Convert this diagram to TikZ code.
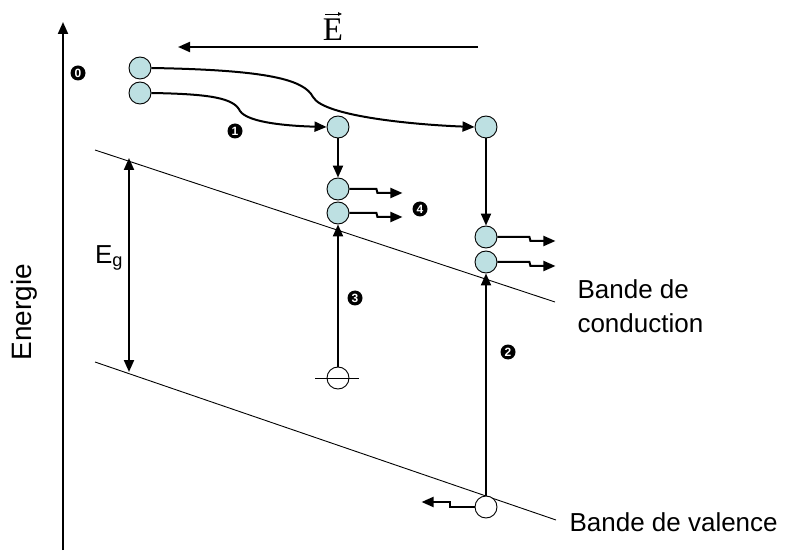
\documentclass[tikz,border=0pt]{standalone}
\usepackage{fontspec}
\setmainfont{Liberation Sans}
\newfontfamily\serifE{Liberation Serif}
\usetikzlibrary{arrows.meta}
\definecolor{eblue}{HTML}{BDE0E2}
\begin{document}
\begin{tikzpicture}[x=1pt,y=-1pt,
  elec/.style={circle,draw,line width=0.9pt,fill=eblue,minimum size=22pt,inner sep=0pt},
  hole/.style={circle,draw,line width=0.9pt,fill=white,minimum size=22pt,inner sep=0pt},
  num/.style={circle,fill=black,text=white,inner sep=0pt,minimum size=15pt,font=\bfseries\fontsize{12}{12}\selectfont},
  arr/.style={line width=2pt,-{Triangle[length=12pt,width=10pt]}},
  band/.style={line width=0.9pt},
  lbl/.style={font=\fontsize{26}{34}\selectfont}]
\useasboundingbox (0,0) rectangle (787,553);

% energy axis
\coordinate (axb) at (63,550);
\coordinate (axt) at (63,22);
\draw[arr] (axb) -- (axt);
\node[font=\fontsize{28}{28}\selectfont,rotate=90] (energie) at (24,312) {Energie};

% electric field
\coordinate (fs) at (478,47);
\coordinate (fe) at (178,47);
\draw[arr] (fs) -- (fe);
\node[font=\serifE\fontsize{33}{33}\selectfont,inner sep=0pt] (efield) at (333,30) {E};
\draw[line width=0.8pt,-{Triangle[length=4pt,width=3.5pt]}] ([xshift=-8pt,yshift=5pt]efield.north) -- ([xshift=9pt,yshift=5pt]efield.north);

% band edges
\coordinate (c1) at (95,150);
\coordinate (c2) at (555,302);
\coordinate (v1) at (95,362);
\coordinate (v2) at (556,520);
\draw[band] (c1) -- (c2);
\draw[band] (v1) -- (v2);

% band gap
\coordinate (gt) at (129,158);
\coordinate (gb) at (129,372);
\draw[line width=2pt,{Triangle[length=12pt,width=10pt]}-{Triangle[length=12pt,width=10pt]}] (gt) -- (gb);
\node[lbl] (eg) at (109,258) {E\textsubscript{g}};

% carriers
\node[elec] (a0) at (140,68) {};
\node[elec] (b0) at (140,93) {};
\node[elec] (a1) at (338,127) {};
\node[elec] (b1) at (486,127) {};
\node[elec] (a2) at (338,189) {};
\node[elec] (a3) at (338,213) {};
\node[elec] (b2) at (486,237) {};
\node[elec] (b3) at (486,262) {};
\node[hole] (h1) at (338,378) {};
\node[hole] (h2) at (486,507) {};
\coordinate (hl) at (315,378);
\coordinate (hr) at (359,378);
\draw[line width=0.9pt] (hl) -- (hr);

% drift paths in the field
\coordinate (k1) at (240,111);
\coordinate (k2) at (313,97);
\draw[arr] (b0.east) .. controls (210,94) and (234,98) .. (k1)
  .. controls (248,123) and (290,126) .. (a1.west);
\draw[arr] (a0.east) .. controls (270,70) and (304,80) .. (k2)
  .. controls (324,117) and (420,125) .. (b1.west);

% relaxation
\draw[arr] (a1.south) -- (a2.north);
\draw[arr] (b1.south) -- (b2.north);

% generation
\draw[arr] (h1.north) -- (a3.south);
\draw[arr] (h2.north) -- (b3.south);

% emitted energy
\draw[arr] (a2.east) -- ++(27,0) -- ++(1,4) -- ++(25,0);
\draw[arr] (a3.east) -- ++(27,0) -- ++(1,4) -- ++(25,0);
\draw[arr] (b2.east) -- ++(32,0) -- ++(1,4) -- ++(25,0);
\draw[arr] (b3.east) -- ++(32,0) -- ++(1,4) -- ++(25,0);
\draw[arr] (h2.west) -- ++(-25,0) -- ++(0,-5) -- ++(-28,0);

% step labels
\node[num] (n0) at (78,73) {0};
\node[num] (n1) at (235,131) {1};
\node[num] (n2) at (508,352) {2};
\node[num] (n3) at (355,298) {3};
\node[num] (n4) at (420,209) {4};

% band names
\node[lbl,align=left,anchor=west] (bc) at (574,306) {Bande de\\conduction};
\node[lbl,anchor=west] (bv) at (566,522) {Bande de valence};
\end{tikzpicture}
\end{document}
